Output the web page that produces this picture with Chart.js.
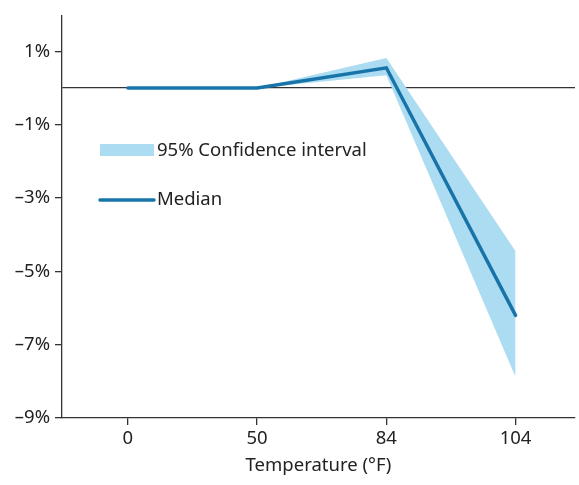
<!DOCTYPE html>
<html>
<head>
<meta charset="utf-8">
<script src="https://cdn.jsdelivr.net/npm/chart.js@4/dist/chart.umd.min.js"></script>
<style>
html,body{margin:0;padding:0;background:#fff;}
#wrap{width:579px;height:485px;position:relative;}
</style>
</head>
<body>
<div id="wrap"><canvas id="c" width="579" height="485"></canvas></div>
<script>
const categories = ['0', '50', '84', '104'];
const median = [0, 0, 0.55, -6.2];
const ciUpper = [0, 0, 0.82, -4.45];
const ciLower = [0, 0, 0.35, -7.88];
const yTicks = [-9, -7, -5, -3, -1, 0, 1];
const legendLabels = ['95% Confidence interval', 'Median'];
const xTitle = 'Temperature (°F)';

const FONT = '"Noto Sans", "Open Sans", sans-serif';
const AXIS = '#333333';
const BAND = '#abdcf2';
const LINE = '#1874a8';

const toPts = arr => arr.map((v, i) => ({x: i, y: v}));

const legendPlugin = {
  id: 'customLegend',
  afterDatasetsDraw(chart) {
    const ctx = chart.ctx;
    ctx.save();
    ctx.font = '18.5px ' + FONT;
    ctx.textBaseline = 'middle';
    ctx.fillStyle = BAND;
    ctx.fillRect(100, 144, 54, 12);
    ctx.fillStyle = '#222';
    ctx.fillText(legendLabels[0], 157, 151);
    ctx.strokeStyle = LINE;
    ctx.lineWidth = 3.5;
    ctx.lineCap = 'round';
    ctx.beginPath();
    ctx.moveTo(100, 200);
    ctx.lineTo(154, 200);
    ctx.stroke();
    ctx.fillText(legendLabels[1], 157, 200);
    ctx.restore();
  }
};

new Chart(document.getElementById('c'), {
  type: 'line',
  data: {
    datasets: [
      {label: 'upper', data: toPts(ciUpper), borderWidth: 0, borderColor: BAND, backgroundColor: BAND, fill: '+1', pointRadius: 0, tension: 0, order: 2},
      {label: 'lower', data: toPts(ciLower), borderWidth: 0, borderColor: BAND, backgroundColor: BAND, fill: false, pointRadius: 0, tension: 0, order: 2},
      {label: 'Median', data: toPts(median), borderWidth: 3.5, borderColor: LINE, borderCapStyle: 'round', borderJoinStyle: 'miter', fill: false, pointRadius: 0, tension: 0, order: 1}
    ]
  },
  options: {
    responsive: false,
    animation: false,
    devicePixelRatio: 1,
    layout: {padding: {top: 16, right: 4, left: 0, bottom: 0}},
    plugins: {legend: {display: false}, tooltip: {enabled: false}},
    scales: {
      x: {
        type: 'linear',
        min: -0.51,
        max: 3.46,
        afterBuildTicks(scale) { scale.ticks = categories.map((c, i) => ({value: i})); },
        afterFit(scale) { scale.height = 67; },
        ticks: {
          callback: (v) => categories[v] ?? '',
          font: {family: FONT, size: 18.5},
          color: '#222',
          padding: 3,
          maxRotation: 0,
          autoSkip: false
        },
        grid: {drawOnChartArea: false, color: AXIS, tickLength: 7, lineWidth: 1.3},
        border: {color: AXIS, width: 1.3},
        title: {display: true, text: xTitle, font: {family: FONT, size: 18.5}, color: '#222', padding: {top: 4, bottom: 8}}
      },
      y: {
        min: -9,
        max: 1.96,
        afterBuildTicks(scale) { scale.ticks = yTicks.map(v => ({value: v})); },
        afterFit(scale) { scale.width = 62; },
        ticks: {
          callback: (v) => v === 0 ? '' : (v < 0 ? '\u2013' + Math.abs(v) + '%' : v + '%'),
          font: {family: FONT, size: 18.5},
          color: '#222',
          padding: 5,
          autoSkip: false
        },
        grid: {
          drawOnChartArea: true,
          color: (c) => c.tick && c.tick.value === 0 ? AXIS : 'rgba(0,0,0,0)',
          tickColor: (c) => c.tick && c.tick.value === 0 ? 'rgba(0,0,0,0)' : AXIS,
          tickLength: 7,
          lineWidth: 1.3
        },
        border: {color: AXIS, width: 1.3}
      }
    }
  },
  plugins: [legendPlugin]
});
</script>
</body>
</html>
